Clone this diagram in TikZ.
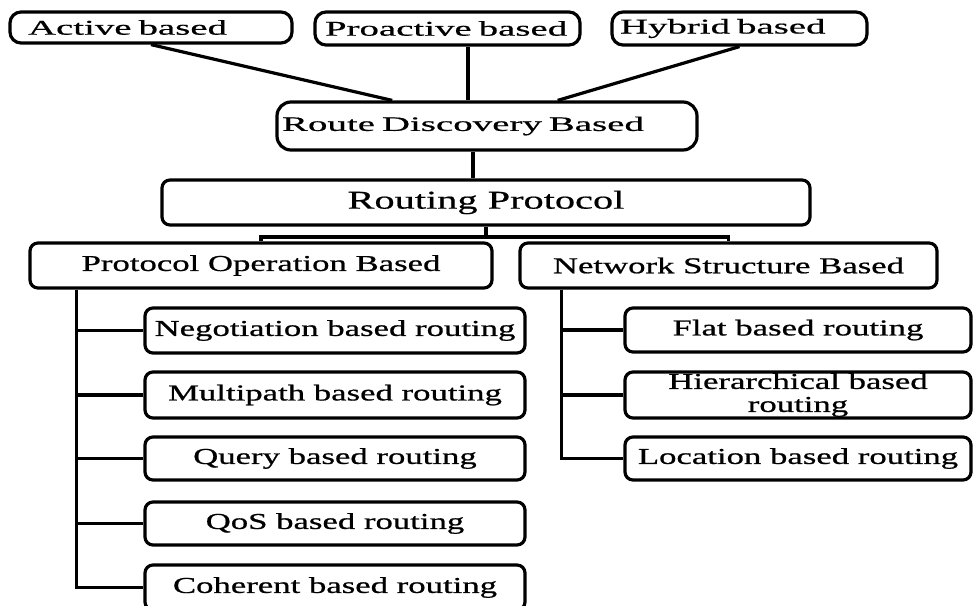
\documentclass[tikz,border=0pt]{standalone}
\usepackage{fontspec}
\usetikzlibrary{calc}
\setmainfont{Liberation Serif}
\newfontfamily\topf[FakeStretch=1.85,FakeBold=0.6]{Liberation Serif}
\newfontfamily\rdf[FakeStretch=1.9,FakeBold=0.6]{Liberation Serif}
\newfontfamily\mainf[FakeStretch=1.53,FakeBold=0.8]{Liberation Serif}
\newfontfamily\rpf[FakeStretch=1.57,FakeBold=0.6]{Liberation Serif}
\begin{document}
\begin{tikzpicture}[x=1pt,y=-1pt,
  box/.style={draw=black, line width=3.2pt, rounded corners=8pt, inner ysep=0pt, inner xsep=0pt, anchor=center},
  topbox/.style={box, rounded corners=11pt, align=left, font=\topf\fontsize{21}{23}\selectfont},
  midbox/.style={box, align=center, font=\mainf\fontsize{22.7}{23}\selectfont},
  conn/.style={draw=black, line width=3.2pt}]
\useasboundingbox (0,0) rectangle (973,605);
\clip (0,0) rectangle (973,605);
% top row
\node[topbox, minimum width=282pt, minimum height=31pt, inner xsep=18pt, text width=246pt] (act) at (151,27.5) {Active based};
\node[topbox, minimum width=265pt, minimum height=33pt, inner xsep=10pt, text width=245pt] (pro) at (447.5,28.5) {Proactive based};
\node[topbox, minimum width=255pt, minimum height=33pt, inner xsep=8pt, text width=239pt] (hyb) at (739.5,28.5) {Hybrid based};
\node[box, rounded corners=14pt, align=left, font=\rdf\fontsize{20.5}{23}\selectfont, minimum width=420pt, minimum height=48pt, inner xsep=5pt, text width=410pt] (rdb) at (487,126) {Route Discovery Based};
% routing protocol
\node[box, font=\rpf\fontsize{25.7}{27}\selectfont, minimum width=648pt, minimum height=45pt] (rp) at (486,202.5) {Routing Protocol};
% second level
\node[midbox, minimum width=462pt, minimum height=45pt] (pob) at (261,265.5) {Protocol Operation Based};
\node[midbox, minimum width=417pt, minimum height=45pt] (nsb) at (728.5,265.5) {Network Structure Based};
% left children
\node[midbox, minimum width=380pt, minimum height=45pt] (neg) at (335,330.5) {Negotiation based routing};
\node[midbox, minimum width=380pt, minimum height=46pt] (mul) at (335,395) {Multipath based routing};
\node[midbox, minimum width=380pt, minimum height=43pt] (que) at (335,458.5) {Query based routing};
\node[midbox, minimum width=380pt, minimum height=43pt] (qos) at (335,523.5) {QoS based routing};
\node[midbox, minimum width=380pt, minimum height=45pt] (coh) at (335,587.5) {Coherent based routing};
% right children
\node[midbox, minimum width=346pt, minimum height=44pt] (flat) at (798,330) {Flat based routing};
\node[midbox, minimum width=346pt, minimum height=46pt] (hier) at (798,395) {Hierarchical based\\routing};
\node[midbox, minimum width=346pt, minimum height=43pt] (loc) at (798,458.5) {Location based routing};
% connectors top
\draw[conn] (act.south) -- ($(rdb.north west)!0.276!(rdb.north east)$);
\draw[conn] ([xshift=20.5pt]pro.south) -- ([xshift=20.5pt]pro.south |- rdb.north);
\draw[conn] (hyb.south) -- ($(rdb.north west)!0.667!(rdb.north east)$);
\draw[conn] ([xshift=-14pt]rdb.south) -- ([xshift=-14pt]rdb.south |- rp.north);
% bracket
\coordinate (br) at (486,237);
\draw[conn] (pob.north) |- (br) -| (nsb.north);
\draw[conn] (rp.south) -- (br);
% left trunk
\coordinate (lt) at ([xshift=48pt]pob.south west);
\draw[conn] (lt) |- (coh.west);
\foreach \n in {neg,mul,que,qos} \draw[conn] (\n.west) -- (\n.west -| lt);
% right trunk
\coordinate (rt) at ([xshift=43pt]nsb.south west);
\draw[conn] (rt) |- (loc.west);
\foreach \n in {flat,hier} \draw[conn] (\n.west) -- (\n.west -| rt);
\end{tikzpicture}
\end{document}
